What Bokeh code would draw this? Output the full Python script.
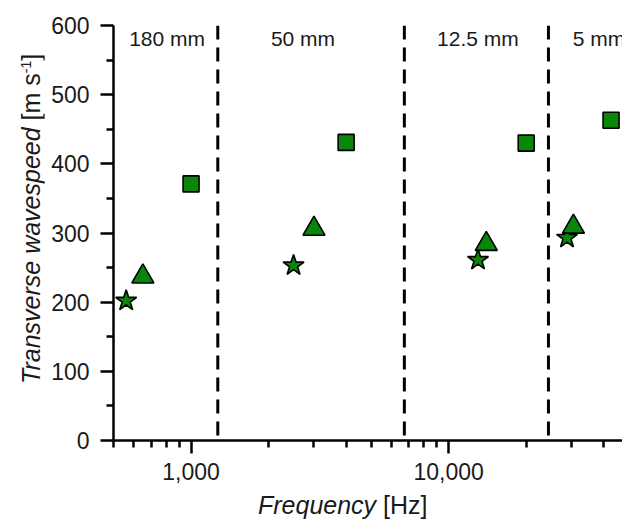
from bokeh.plotting import figure
from bokeh.models import FixedTicker, NumeralTickFormatter, Span, ColumnDataSource, Range1d, Div
from bokeh.layouts import row, column
from bokeh.core.properties import value
from bokeh.embed import file_html
from bokeh.resources import INLINE

# ---- data ----
star_freq = [560, 2500, 13000, 28800]
star_speed = [202, 253, 261, 293]
tri_freq = [650, 3000, 14000, 30500]
tri_speed = [237, 306, 284, 309]
sq_freq = [1000, 4000, 20000, 42700]
sq_speed = [371, 431, 430, 463]

boundary_freq = [1270, 6730, 24400]
region_labels = ["180 mm", "50 mm", "12.5 mm", "5 mm"]
region_label_freq = [807, 2720, 12990, 38300]
region_label_speed = [581, 581, 581, 581]

x_major_ticks = [1000, 10000]
x_minor_ticks = [500, 600, 700, 800, 900, 2000, 3000, 4000, 5000, 6000, 7000,
                 8000, 9000, 20000, 30000, 40000]
y_major_ticks = [0, 100, 200, 300, 400, 500, 600]
y_minor_ticks = [50, 150, 250, 350, 450, 550]

x_title_italic = "Frequency"
x_title_unit = "[Hz]"
y_title_italic = "Transverse wavespeed"
y_title_unit = '[m s<sup style="font-size:14px">-1</sup>]'

FONT = "Liberation Sans"
GREEN = "#0a860a"
TXT = "#1a1a1a"

p = figure(width=578, height=490, x_axis_type="log",
           x_range=Range1d(500, 47300), y_range=Range1d(0, 600),
           output_backend="svg", toolbar_location=None,
           min_border_left=69, min_border_right=0,
           min_border_top=25, min_border_bottom=50, margin=0)
p.outline_line_color = None
p.xgrid.visible = False
p.ygrid.visible = False
p.background_fill_color = "white"
p.border_fill_color = "white"

for ax in (p.xaxis[0], p.yaxis[0]):
    ax.axis_line_width = 2.5
    ax.axis_line_color = "black"
    ax.major_tick_line_width = 2.5
    ax.minor_tick_line_width = 2.5
    ax.major_tick_line_color = "black"
    ax.minor_tick_line_color = "black"
    ax.major_tick_in = 0
    ax.major_tick_out = 13
    ax.minor_tick_in = 0
    ax.minor_tick_out = 7
    ax.major_label_text_font = FONT
    ax.major_label_text_font_size = "23px"
    ax.major_label_text_color = TXT

p.xaxis[0].ticker = FixedTicker(ticks=x_major_ticks, minor_ticks=x_minor_ticks)
p.xaxis[0].formatter = NumeralTickFormatter(format="0,0")
p.xaxis[0].major_label_standoff = 9
p.yaxis[0].ticker = FixedTicker(ticks=y_major_ticks, minor_ticks=y_minor_ticks)
p.yaxis[0].major_label_standoff = 11

for f in boundary_freq:
    p.add_layout(Span(location=f, dimension="height", line_color="black",
                      line_width=3, line_dash="14 8"))

p.scatter(star_freq, star_speed, marker="star", size=22, fill_color=GREEN,
          line_color="black", line_width=1.6)
p.scatter(tri_freq, tri_speed, marker="triangle", size=22, fill_color=GREEN,
          line_color="black", line_width=1.6)
p.scatter(sq_freq, sq_speed, marker="square", size=16, fill_color=GREEN,
          line_color="black", line_width=1.6)

src = ColumnDataSource(dict(x=region_label_freq, y=region_label_speed, t=region_labels))
p.text(x="x", y="y", text="t", source=src, text_font=value(FONT),
       text_font_size="21px", text_color=TXT, text_align="center",
       text_baseline="middle")

font_css = f"font-family:'{FONT}',Arial,sans-serif;font-size:25px;color:{TXT};white-space:nowrap;"

ydiv = Div(width=44, height=520, margin=0, text=(
    '<div style="position:relative;width:44px;height:520px;">'
    f'<div style="position:absolute;left:12px;top:384px;line-height:28px;'
    f'transform:rotate(-90deg);transform-origin:0 0;{font_css}">'
    f'<i>{y_title_italic}</i> {y_title_unit}</div></div>'))

xdiv = Div(width=578, height=30, margin=0, text=(
    '<div style="position:relative;width:578px;height:30px;">'
    f'<div style="position:absolute;left:214px;top:0px;line-height:30px;{font_css}">'
    f'<i>{x_title_italic}</i> {x_title_unit}</div></div>'))

layout = row(ydiv, column(p, xdiv, spacing=0, margin=0), spacing=0, margin=0)

open("out.html", "w").write(file_html(layout, INLINE))
